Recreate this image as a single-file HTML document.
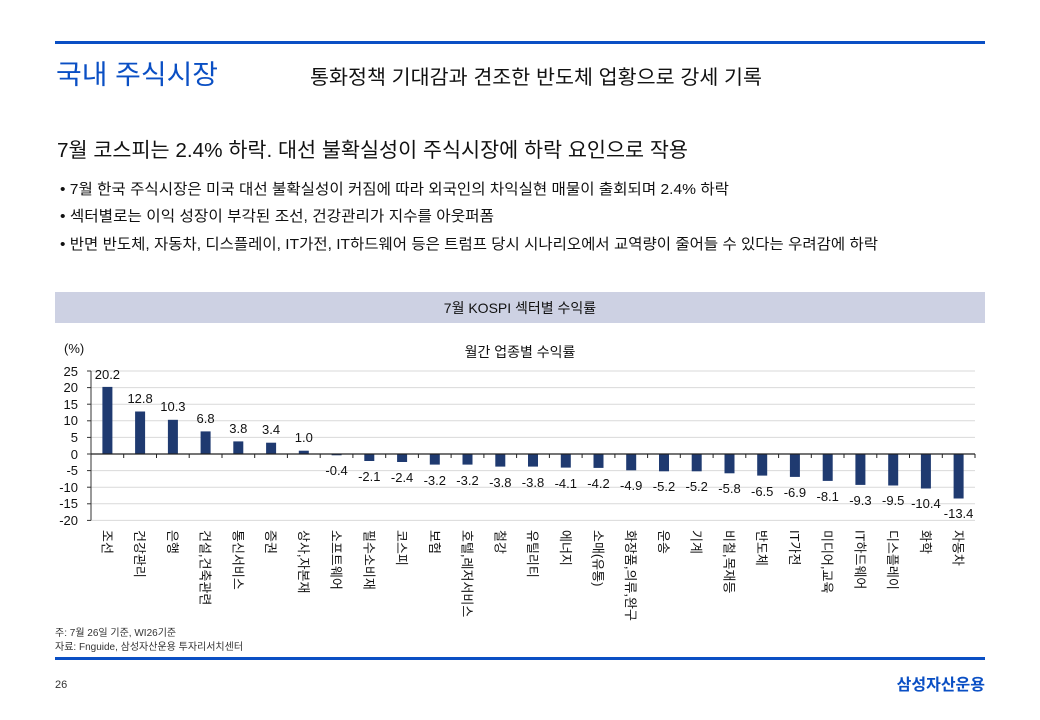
<!DOCTYPE html>
<html><head><meta charset="utf-8"><style>
body{margin:0;background:#fff;}
svg{display:block;font-family:"Liberation Sans","Noto Sans CJK KR",sans-serif;}
</style></head><body>
<svg width="1040" height="720" viewBox="0 0 1040 720" xmlns="http://www.w3.org/2000/svg">
<rect width="1040" height="720" fill="#fff"/>
<rect x="55" y="41" width="930" height="3" fill="#0a4fc4"/>
<text x="56" y="84" font-size="27" fill="#0a4fc4" textLength="162" lengthAdjust="spacingAndGlyphs">국내 주식시장</text>
<text x="310" y="84" font-size="20" fill="#111" textLength="452" lengthAdjust="spacingAndGlyphs">통화정책 기대감과 견조한 반도체 업황으로 강세 기록</text>
<text x="57" y="157" font-size="20.5" fill="#111" textLength="631" lengthAdjust="spacingAndGlyphs">7월 코스피는 2.4% 하락. 대선 불확실성이 주식시장에 하락 요인으로 작용</text>
<g font-size="15" fill="#111">
<text x="60" y="194" textLength="669" lengthAdjust="spacingAndGlyphs">• 7월 한국 주식시장은 미국 대선 불확실성이 커짐에 따라 외국인의 차익실현 매물이 출회되며 2.4% 하락</text>
<text x="60" y="221" textLength="434" lengthAdjust="spacingAndGlyphs">• 섹터별로는 이익 성장이 부각된 조선, 건강관리가 지수를 아웃퍼폼</text>
<text x="60" y="249" textLength="818" lengthAdjust="spacingAndGlyphs">• 반면 반도체, 자동차, 디스플레이, IT가전, IT하드웨어 등은 트럼프 당시 시나리오에서 교역량이 줄어들 수 있다는 우려감에 하락</text>
</g>
<rect x="55" y="292" width="930" height="31" fill="#cdd1e3"/>
<text x="520" y="313" font-size="14" text-anchor="middle" fill="#111">7월 KOSPI 섹터별 수익률</text>
<text x="64" y="353" font-size="13" fill="#111">(%)</text>
<text x="520" y="357" font-size="14" text-anchor="middle" fill="#111">월간 업종별 수익률</text>
<g stroke="#d9d9d9" stroke-width="1">
<line x1="91" x2="975" y1="371" y2="371"/><line x1="91" x2="975" y1="387.6" y2="387.6"/><line x1="91" x2="975" y1="404.2" y2="404.2"/><line x1="91" x2="975" y1="420.8" y2="420.8"/><line x1="91" x2="975" y1="437.4" y2="437.4"/><line x1="91" x2="975" y1="470.6" y2="470.6"/><line x1="91" x2="975" y1="487.2" y2="487.2"/><line x1="91" x2="975" y1="503.8" y2="503.8"/><line x1="91" x2="975" y1="520.4" y2="520.4"/>
</g>
<g font-size="13" fill="#111" text-anchor="end">
<text x="78" y="376">25</text><text x="78" y="392">20</text><text x="78" y="409">15</text><text x="78" y="425">10</text><text x="78" y="442">5</text><text x="78" y="459">0</text><text x="78" y="475">-5</text><text x="78" y="492">-10</text><text x="78" y="508">-15</text><text x="78" y="525">-20</text>
</g>
<line x1="91" x2="91" y1="371" y2="520.4" stroke="#333"/>
<g stroke="#333"><line x1="87" x2="91" y1="371" y2="371"/><line x1="87" x2="91" y1="387.6" y2="387.6"/><line x1="87" x2="91" y1="404.2" y2="404.2"/><line x1="87" x2="91" y1="420.8" y2="420.8"/><line x1="87" x2="91" y1="437.4" y2="437.4"/><line x1="87" x2="91" y1="454" y2="454"/><line x1="87" x2="91" y1="470.6" y2="470.6"/><line x1="87" x2="91" y1="487.2" y2="487.2"/><line x1="87" x2="91" y1="503.8" y2="503.8"/><line x1="87" x2="91" y1="520.4" y2="520.4"/></g>
<g fill="#1f3a70">
<rect x="102.4" y="386.9" width="10" height="67.1"/>
<rect x="135.1" y="411.5" width="10" height="42.5"/>
<rect x="167.9" y="419.8" width="10" height="34.2"/>
<rect x="200.6" y="431.4" width="10" height="22.6"/>
<rect x="233.3" y="441.4" width="10" height="12.6"/>
<rect x="266.1" y="442.7" width="10" height="11.3"/>
<rect x="298.8" y="450.7" width="10" height="3.3"/>
<rect x="331.6" y="454" width="10" height="1.3"/>
<rect x="364.3" y="454" width="10" height="7.0"/>
<rect x="397.1" y="454" width="10" height="8.0"/>
<rect x="429.8" y="454" width="10" height="10.6"/>
<rect x="462.5" y="454" width="10" height="10.6"/>
<rect x="495.3" y="454" width="10" height="12.6"/>
<rect x="528.0" y="454" width="10" height="12.6"/>
<rect x="560.8" y="454" width="10" height="13.6"/>
<rect x="593.5" y="454" width="10" height="13.9"/>
<rect x="626.2" y="454" width="10" height="16.3"/>
<rect x="659.0" y="454" width="10" height="17.3"/>
<rect x="691.7" y="454" width="10" height="17.3"/>
<rect x="724.5" y="454" width="10" height="19.3"/>
<rect x="757.2" y="454" width="10" height="21.6"/>
<rect x="789.9" y="454" width="10" height="22.9"/>
<rect x="822.7" y="454" width="10" height="26.9"/>
<rect x="855.4" y="454" width="10" height="30.9"/>
<rect x="888.2" y="454" width="10" height="31.5"/>
<rect x="920.9" y="454" width="10" height="34.5"/>
<rect x="953.6" y="454" width="10" height="44.5"/>
</g>
<line x1="91" x2="975" y1="454" y2="454" stroke="#222" stroke-width="1.2"/>
<g stroke="#222"><line x1="123.7" x2="123.7" y1="454" y2="458"/><line x1="156.5" x2="156.5" y1="454" y2="458"/><line x1="189.2" x2="189.2" y1="454" y2="458"/><line x1="222" x2="222" y1="454" y2="458"/><line x1="254.7" x2="254.7" y1="454" y2="458"/><line x1="287.4" x2="287.4" y1="454" y2="458"/><line x1="320.2" x2="320.2" y1="454" y2="458"/><line x1="352.9" x2="352.9" y1="454" y2="458"/><line x1="385.7" x2="385.7" y1="454" y2="458"/><line x1="418.4" x2="418.4" y1="454" y2="458"/><line x1="451.1" x2="451.1" y1="454" y2="458"/><line x1="483.9" x2="483.9" y1="454" y2="458"/><line x1="516.6" x2="516.6" y1="454" y2="458"/><line x1="549.4" x2="549.4" y1="454" y2="458"/><line x1="582.1" x2="582.1" y1="454" y2="458"/><line x1="614.9" x2="614.9" y1="454" y2="458"/><line x1="647.6" x2="647.6" y1="454" y2="458"/><line x1="680.3" x2="680.3" y1="454" y2="458"/><line x1="713.1" x2="713.1" y1="454" y2="458"/><line x1="745.8" x2="745.8" y1="454" y2="458"/><line x1="778.6" x2="778.6" y1="454" y2="458"/><line x1="811.3" x2="811.3" y1="454" y2="458"/><line x1="844" x2="844" y1="454" y2="458"/><line x1="876.8" x2="876.8" y1="454" y2="458"/><line x1="909.5" x2="909.5" y1="454" y2="458"/><line x1="942.3" x2="942.3" y1="454" y2="458"/><line x1="975" x2="975" y1="454" y2="458"/></g>
<g font-size="13" fill="#111" text-anchor="middle">
<text x="107.4" y="379">20.2</text><text x="140.1" y="403">12.8</text><text x="172.9" y="411">10.3</text><text x="205.6" y="423">6.8</text><text x="238.3" y="433">3.8</text><text x="271.1" y="434">3.4</text><text x="303.8" y="442">1.0</text>
<text x="336.6" y="475">-0.4</text><text x="369.3" y="481">-2.1</text><text x="402.1" y="482">-2.4</text><text x="434.8" y="485">-3.2</text><text x="467.5" y="485">-3.2</text><text x="500.3" y="487">-3.8</text><text x="533.0" y="487">-3.8</text><text x="565.8" y="488">-4.1</text><text x="598.5" y="488">-4.2</text><text x="631.2" y="490">-4.9</text><text x="664.0" y="491">-5.2</text><text x="696.7" y="491">-5.2</text><text x="729.5" y="493">-5.8</text><text x="762.2" y="496">-6.5</text><text x="794.9" y="497">-6.9</text><text x="827.7" y="501">-8.1</text><text x="860.4" y="505">-9.3</text><text x="893.2" y="505">-9.5</text><text x="925.9" y="508">-10.4</text><text x="958.6" y="518">-13.4</text>
</g>
<g font-size="13" fill="#111">
<text transform="translate(102.4,530) rotate(90)">조선</text>
<text transform="translate(135.1,530) rotate(90)">건강관리</text>
<text transform="translate(167.9,530) rotate(90)">은행</text>
<text transform="translate(200.6,530) rotate(90)">건설,건축관련</text>
<text transform="translate(233.3,530) rotate(90)">통신서비스</text>
<text transform="translate(266.1,530) rotate(90)">증권</text>
<text transform="translate(298.8,530) rotate(90)">상사,자본재</text>
<text transform="translate(331.6,530) rotate(90)">소프트웨어</text>
<text transform="translate(364.3,530) rotate(90)">필수소비재</text>
<text transform="translate(397.1,530) rotate(90)">코스피</text>
<text transform="translate(429.8,530) rotate(90)">보험</text>
<text transform="translate(462.5,530) rotate(90)">호텔,레저서비스</text>
<text transform="translate(495.3,530) rotate(90)">철강</text>
<text transform="translate(528.0,530) rotate(90)">유틸리티</text>
<text transform="translate(560.8,530) rotate(90)">에너지</text>
<text transform="translate(593.5,530) rotate(90)">소매(유통)</text>
<text transform="translate(626.2,530) rotate(90)">화장품,의류,완구</text>
<text transform="translate(659.0,530) rotate(90)">운송</text>
<text transform="translate(691.7,530) rotate(90)">기계</text>
<text transform="translate(724.5,530) rotate(90)">비철,목재등</text>
<text transform="translate(757.2,530) rotate(90)">반도체</text>
<text transform="translate(789.9,530) rotate(90)">IT가전</text>
<text transform="translate(822.7,530) rotate(90)">미디어,교육</text>
<text transform="translate(855.4,530) rotate(90)">IT하드웨어</text>
<text transform="translate(888.2,530) rotate(90)">디스플레이</text>
<text transform="translate(920.9,530) rotate(90)">화학</text>
<text transform="translate(953.6,530) rotate(90)">자동차</text>
</g>
<text x="55" y="636" font-size="10" fill="#333">주: 7월 26일 기준, WI26기준</text>
<text x="55" y="650" font-size="10" fill="#333">자료: Fnguide, 삼성자산운용 투자리서치센터</text>
<rect x="55" y="657" width="930" height="3" fill="#0a4fc4"/>
<text x="55" y="688" font-size="11" fill="#333">26</text>
<text x="985" y="690" font-size="16" font-weight="bold" fill="#0a4fc4" text-anchor="end">삼성자산운용</text>
</svg>
</body></html>
